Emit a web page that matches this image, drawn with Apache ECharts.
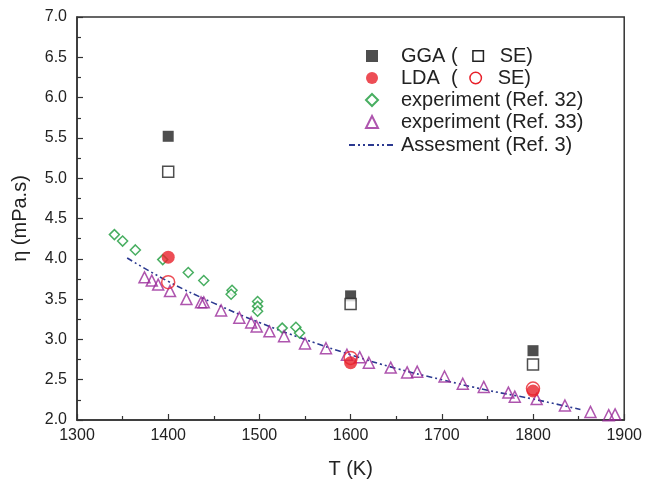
<!DOCTYPE html>
<html>
<head>
<meta charset="utf-8">
<script src="https://cdn.jsdelivr.net/npm/echarts@6/dist/echarts.min.js"></script>
<style>
  html, body { margin: 0; padding: 0; background: #fff; }
  #chart { width: 645px; height: 488px; }
</style>
</head>
<body>
<div id="chart"></div>
<script>
  // calculated temperatures (K)
  const calcT = [1400, 1600, 1800];
  // GGA viscosity, Green-Kubo and Stokes-Einstein (mPa.s)
  const ggaGK = [5.52, 3.54, 2.86];
  const ggaSE = [5.08, 3.44, 2.69];
  // LDA viscosity
  const ldaGK = [4.02, 2.71, 2.36];
  const ldaSE = [3.71, 2.77, 2.39];

  // experiment (Ref. 32)
  const ref32T = [1341, 1350, 1364, 1394, 1422, 1439, 1470, 1469, 1498, 1498, 1498, 1525, 1540, 1544];
  const ref32V = [4.30, 4.22, 4.11, 3.99, 3.83, 3.73, 3.61, 3.56, 3.47, 3.41, 3.35, 3.14, 3.15, 3.08];

  // experiment (Ref. 33)
  const ref33T = [1374, 1382, 1389, 1402, 1420, 1436, 1439, 1458, 1478, 1491, 1497, 1511, 1527, 1550,
                  1573, 1596, 1610, 1620, 1644, 1662, 1673, 1703, 1723, 1746, 1773, 1780, 1804, 1835,
                  1863, 1883, 1890];
  const ref33V = [3.77, 3.73, 3.68, 3.60, 3.50, 3.46, 3.46, 3.36, 3.27, 3.21, 3.16, 3.10, 3.04, 2.95,
                  2.89, 2.81, 2.78, 2.71, 2.65, 2.59, 2.60, 2.54, 2.45, 2.41, 2.34, 2.29, 2.26, 2.18,
                  2.10, 2.06, 2.07];

  // assessment curve (Ref. 3)
  const assessT = [1355, 1400, 1450, 1500, 1550, 1600, 1650, 1700, 1750, 1800, 1852];
  const assessV = [4.01, 3.72, 3.45, 3.21, 3.00, 2.81, 2.64, 2.50, 2.37, 2.26, 2.13];

  const markerNames = ['GGA', 'LDA', 'experiment (Ref. 32)', 'experiment (Ref. 33)'];
  const lineName = 'Assesment (Ref. 3)';

  const pairs = (xs, ys) => xs.map((x, i) => [x, ys[i]]);

  const axisColor = '#333';
  const font = 'Liberation Sans, Arial, sans-serif';

  const legendText = {
    fontSize: 20,
    color: '#222',
    fontFamily: font,
    rich: {
      pad: { width: 18 },
      g1: { width: 16 },
      g2: { width: 17 },
      g3: { width: 13 },
      sq: { width: 9, height: 9, borderColor: '#222', borderWidth: 1.5, backgroundColor: '#fff' },
      ci: { width: 10, height: 10, borderColor: '#e8202a', borderWidth: 1.5, borderRadius: 6, backgroundColor: '#fff' },
    },
  };

  const chart = echarts.init(document.getElementById('chart'));

  const option = {
    animation: false,
    backgroundColor: '#fff',
    grid: {
      left: 77,
      right: 18,
      top: 17,
      bottom: 68,
      show: true,
      borderColor: axisColor,
      borderWidth: 1.5,
    },
    xAxis: {
      type: 'value',
      min: 1300,
      max: 1900,
      interval: 100,
      name: 'T (K)',
      nameLocation: 'middle',
      nameGap: 39,
      nameTextStyle: { fontSize: 20, color: '#222', fontFamily: font },
      axisLine: { lineStyle: { color: axisColor, width: 1.5 } },
      axisTick: { inside: true, length: 6, lineStyle: { color: axisColor, width: 1.2 } },
      minorTick: { show: true, splitNumber: 2, length: 4, lineStyle: { color: axisColor, width: 1.2 } },
      axisLabel: { fontSize: 16, color: '#222', fontFamily: font, margin: 8, formatter: v => String(v) },
      splitLine: { show: false },
    },
    yAxis: {
      type: 'value',
      min: 2,
      max: 7,
      interval: 0.5,
      name: 'η (mPa.s)',
      nameLocation: 'middle',
      nameGap: 47,
      nameTextStyle: { fontSize: 20, color: '#222', fontFamily: font },
      axisLine: { lineStyle: { color: axisColor, width: 1.5 } },
      axisTick: { inside: true, length: 6, lineStyle: { color: axisColor, width: 1.2 } },
      minorTick: { show: true, splitNumber: 2, length: 4, lineStyle: { color: axisColor, width: 1.2 } },
      axisLabel: {
        fontSize: 16, color: '#222', fontFamily: font, margin: 10,
        formatter: v => v.toFixed(1),
      },
      splitLine: { show: false },
    },
    legend: [
      {
        // marker entries
        orient: 'vertical',
        left: 365,
        top: 46,
        padding: 0,
        itemWidth: 12,
        itemHeight: 12,
        itemGap: 2,
        data: [
          { name: markerNames[0], icon: 'rect' },
          { name: markerNames[1], icon: 'circle' },
          { name: markerNames[2], icon: 'diamond' },
          { name: markerNames[3], icon: 'triangle' },
        ],
        formatter: name => {
          if (name === 'GGA') return '{pad|}GGA ({g1|}{sq|}{g2|}SE)';
          if (name === 'LDA') return '{pad|}LDA  ({g3|}{ci|}{g2|}SE)';
          return '{pad|}' + name;
        },
        textStyle: legendText,
      },
      {
        // assessment line entry
        orient: 'vertical',
        left: 348,
        top: 135,
        padding: 0,
        itemWidth: 47,
        itemHeight: 12,
        data: [lineName],
        itemStyle: { opacity: 0 },
        textStyle: legendText,
      },
    ],
    series: [
      {
        name: lineName,
        type: 'line',
        data: pairs(assessT, assessV),
        smooth: true,
        symbol: 'none',
        lineStyle: { color: '#2b3990', width: 1.6, type: [6, 3, 2, 3, 2, 3] },
        itemStyle: { color: '#2b3990' },
        z: 2,
      },
      {
        name: markerNames[2],
        type: 'scatter',
        data: pairs(ref32T, ref32V),
        symbol: 'diamond',
        symbolSize: 10,
        itemStyle: { color: '#fff', borderColor: '#1a9a3a', borderWidth: 1.5 },
        z: 3,
      },
      {
        name: markerNames[3],
        type: 'scatter',
        data: pairs(ref33T, ref33V),
        symbol: 'triangle',
        symbolSize: 11,
        itemStyle: { color: 'rgba(255,255,255,0)', borderColor: '#9a2a9a', borderWidth: 1.5 },
        z: 4,
      },
      {
        name: markerNames[1],
        type: 'scatter',
        data: pairs(calcT, ldaGK),
        symbol: 'circle',
        symbolSize: 13,
        itemStyle: { color: '#e8202a' },
        z: 5,
      },
      {
        name: 'LDA SE',
        type: 'scatter',
        data: pairs(calcT, ldaSE),
        symbol: 'circle',
        symbolSize: 13,
        itemStyle: { color: 'rgba(255,255,255,0)', borderColor: '#e8202a', borderWidth: 1.5 },
        z: 6,
      },
      {
        name: markerNames[0],
        type: 'scatter',
        data: pairs(calcT, ggaGK),
        symbol: 'rect',
        symbolSize: 11,
        itemStyle: { color: '#222' },
        z: 5,
      },
      {
        name: 'GGA SE',
        type: 'scatter',
        data: pairs(calcT, ggaSE),
        symbol: 'rect',
        symbolSize: 11,
        itemStyle: { color: '#fff', borderColor: '#222', borderWidth: 1.5 },
        z: 6,
      },
    ],
  };

  chart.setOption(option);
</script>
</body>
</html>
